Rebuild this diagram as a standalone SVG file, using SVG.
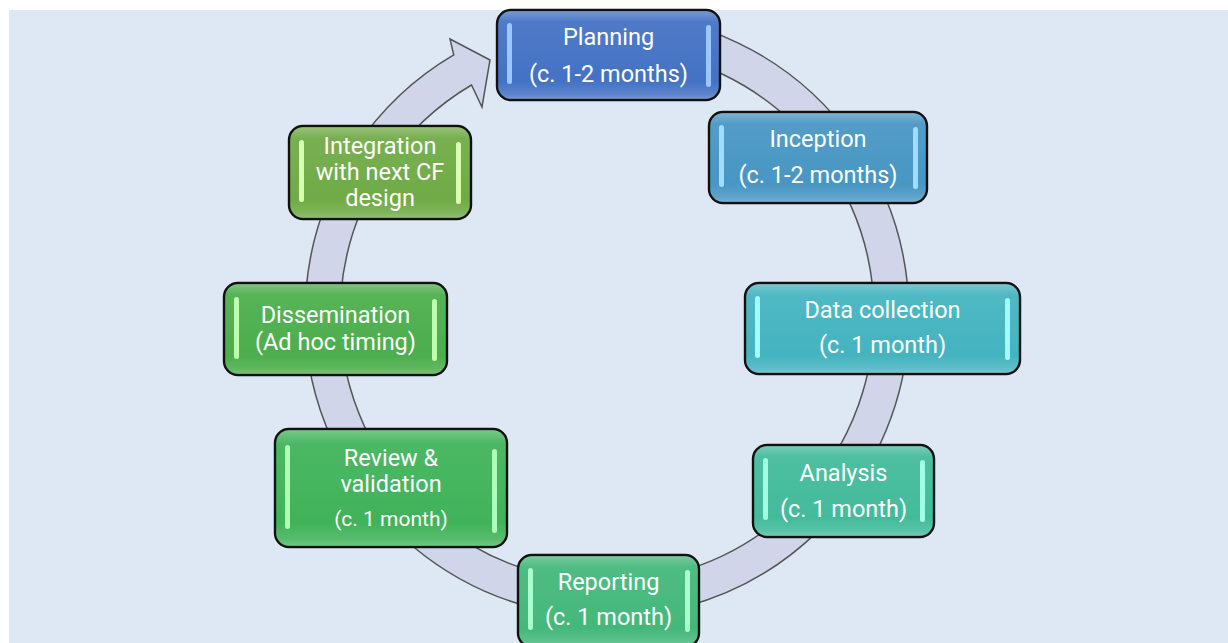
<svg xmlns="http://www.w3.org/2000/svg" width="1228" height="643" viewBox="0 0 1228 643">
<style>
.box{stroke:#111;stroke-width:2.4}
.gloss{fill:url(#gloss);stroke:none}
.t{font-family:Roboto,"Liberation Sans",sans-serif;font-size:23.5px;fill:#fff;text-anchor:middle}
.ts{font-size:21px}
.ring{fill:#d0d5ea;stroke:#555;stroke-width:1.5;stroke-linejoin:miter}
.bar{stroke:none}
</style>
<defs>
<linearGradient id="gloss" x1="0" y1="0" x2="0" y2="1">
<stop offset="0" stop-color="#fff" stop-opacity="0.28"/>
<stop offset="0.12" stop-color="#fff" stop-opacity="0.06"/>
<stop offset="0.8" stop-color="#fff" stop-opacity="0"/>
<stop offset="0.94" stop-color="#fff" stop-opacity="0.12"/>
<stop offset="1" stop-color="#fff" stop-opacity="0.25"/>
</linearGradient>
</defs>
<rect x="0" y="0" width="1228" height="643" fill="#fff"/>
<rect x="9" y="10" width="1219" height="633" fill="#dde8f4"/>

<g id="connectors">
<path class="ring" d="M 607 13 A 302 302 0 1 1 453.7 54.8 L 450 39 L 490 60 L 482 107 L 471.5 85 A 267 267 0 1 0 607 48 Z"/>
</g>

<g id="planning">
<rect class="box" x="497" y="10" width="223" height="90" rx="14" fill="#4472c4"/>
<rect class="gloss" x="498" y="11" width="221" height="88" rx="13"/>
<rect class="bar" x="507" y="23" width="5" height="61" rx="2.5" fill="#9cc6ff"/>
<rect class="bar" x="706" y="25" width="5" height="62" rx="2.5" fill="#9cc6ff"/>
<text class="t" x="608.5" y="45">Planning</text>
<text class="t" x="608.5" y="82">(c. 1-2 months)</text>
</g>

<g id="inception">
<rect class="box" x="709" y="112" width="218" height="91" rx="14" fill="#4896c4"/>
<rect class="gloss" x="710" y="113" width="216" height="89" rx="13"/>
<rect class="bar" x="719" y="125" width="5" height="62" rx="2.5" fill="#9fdcff"/>
<rect class="bar" x="913" y="127" width="5" height="62" rx="2.5" fill="#9fdcff"/>
<text class="t" x="818" y="147">Inception</text>
<text class="t" x="818" y="183">(c. 1-2 months)</text>
</g>

<g id="data-collection">
<rect class="box" x="745" y="283" width="275" height="91" rx="14" fill="#44b4c0"/>
<rect class="gloss" x="746" y="284" width="273" height="89" rx="13"/>
<rect class="bar" x="755" y="296" width="5" height="62" rx="2.5" fill="#a0fbff"/>
<rect class="bar" x="1005" y="298" width="5" height="62" rx="2.5" fill="#a0fbff"/>
<text class="t" x="882.5" y="318">Data collection</text>
<text class="t" x="882.5" y="353">(c. 1 month)</text>
</g>

<g id="analysis">
<rect class="box" x="753" y="445" width="181" height="92" rx="14" fill="#43bb9b"/>
<rect class="gloss" x="754" y="446" width="179" height="90" rx="13"/>
<rect class="bar" x="763" y="458" width="5" height="62" rx="2.5" fill="#a0ffe4"/>
<rect class="bar" x="920" y="460" width="5" height="62" rx="2.5" fill="#a0ffe4"/>
<text class="t" x="843.5" y="481">Analysis</text>
<text class="t" x="843.5" y="517">(c. 1 month)</text>
</g>

<g id="reporting">
<rect class="box" x="518" y="555" width="181" height="92" rx="14" fill="#44b87b"/>
<rect class="gloss" x="519" y="556" width="179" height="90" rx="13"/>
<rect class="bar" x="528" y="568" width="5" height="62" rx="2.5" fill="#aaffcc"/>
<rect class="bar" x="685" y="570" width="5" height="62" rx="2.5" fill="#aaffcc"/>
<text class="t" x="608.5" y="590">Reporting</text>
<text class="t" x="608.5" y="625">(c. 1 month)</text>
</g>

<g id="review-validation">
<rect class="box" x="275" y="429" width="232" height="118" rx="14" fill="#40b35a"/>
<rect class="gloss" x="276" y="430" width="230" height="116" rx="13"/>
<rect class="bar" x="285" y="445" width="5" height="84" rx="2.5" fill="#b0ffb8"/>
<rect class="bar" x="492" y="449" width="5" height="84" rx="2.5" fill="#b0ffb8"/>
<text class="t" x="391" y="466">Review &amp;</text>
<text class="t" x="391" y="492">validation</text>
<text class="t ts" x="391" y="526">(c. 1 month)</text>
</g>

<g id="dissemination">
<rect class="box" x="224" y="283" width="223" height="92" rx="14" fill="#4cae4c"/>
<rect class="gloss" x="225" y="284" width="221" height="90" rx="13"/>
<rect class="bar" x="234" y="297" width="5" height="62" rx="2.5" fill="#c0ffb0"/>
<rect class="bar" x="432" y="299" width="5" height="62" rx="2.5" fill="#c0ffb0"/>
<text class="t" x="335.5" y="323">Dissemination</text>
<text class="t" x="335.5" y="350">(Ad hoc timing)</text>
</g>

<g id="integration">
<rect class="box" x="289" y="126" width="182" height="93" rx="14" fill="#70ab46"/>
<rect class="gloss" x="290" y="127" width="180" height="91" rx="13"/>
<rect class="bar" x="299" y="140" width="5" height="62" rx="2.5" fill="#d8ffb0"/>
<rect class="bar" x="456" y="142" width="5" height="62" rx="2.5" fill="#d8ffb0"/>
<text class="t" x="380" y="154">Integration</text>
<text class="t" x="380" y="180">with next CF</text>
<text class="t" x="380" y="206">design</text>
</g>
</svg>
